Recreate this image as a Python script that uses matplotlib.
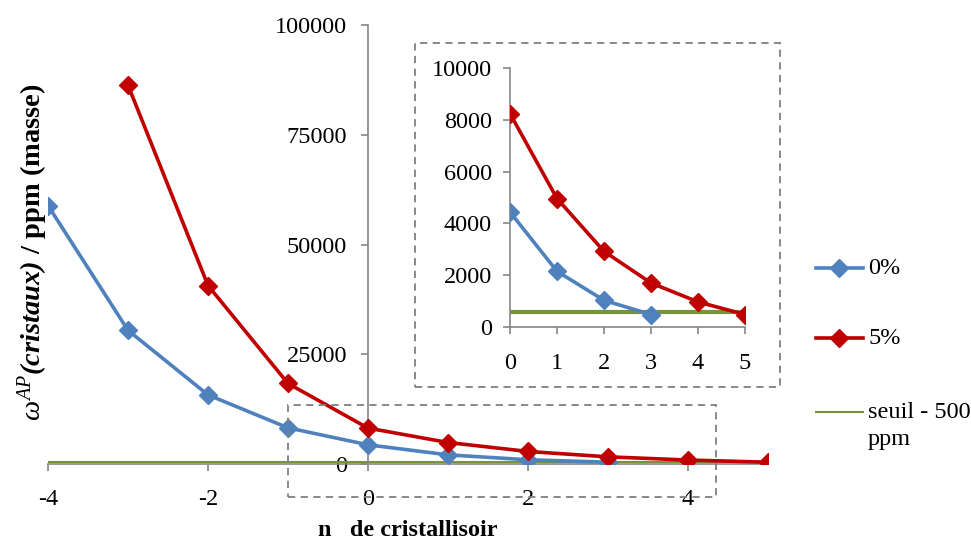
import matplotlib.pyplot as plt
from matplotlib.patches import Rectangle
from matplotlib.lines import Line2D

plt.rcParams['font.family'] = 'Liberation Serif'
plt.rcParams['axes.unicode_minus'] = False
plt.rcParams['mathtext.fontset'] = 'custom'
plt.rcParams['mathtext.rm'] = 'Liberation Serif:bold'
plt.rcParams['mathtext.it'] = 'Liberation Serif:italic'
plt.rcParams['mathtext.bf'] = 'Liberation Serif:bold'
plt.rcParams['mathtext.bfit'] = 'Liberation Serif:italic:bold'

# data
n_0 = [-4, -3, -2, -1, 0, 1, 2, 3]
w_0 = [58900, 30500, 15800, 8300, 4440, 2150, 1030, 480]
n_5 = [-3, -2, -1, 0, 1, 2, 3, 4, 5]
w_5 = [86300, 40700, 18400, 8240, 4960, 2920, 1700, 970, 480]
n_seuil = [-4, 5]
seuil = 560

main_xticks = [-4, -2, 0, 2, 4]
main_yticks = [0, 25000, 50000, 75000, 100000]
ins_xticks = [0, 1, 2, 3, 4, 5]
ins_yticks = [0, 2000, 4000, 6000, 8000, 10000]

blue = '#4F81BD'
red = '#C00000'
green = '#77933C'
grey = '#868686'
fs = 17.5

fig = plt.figure(figsize=(9.71, 5.41), dpi=100)

# main axes
ax = fig.add_axes([48/971, 1 - 464.3/541, 720/971, 439.3/541])
ax.plot(n_seuil, [seuil, seuil], color=green, lw=1.5, zorder=2)
ax.plot(n_0, w_0, color=blue, lw=2.6, marker='D', ms=9, zorder=3)
ax.plot(n_5, w_5, color=red, lw=2.6, marker='D', ms=9, zorder=3)
ax.set_xlim(-4, 5)
ax.set_ylim(0, 100000)
ax.set_xticks(main_xticks)
ax.set_yticks(main_yticks)
ax.spines['left'].set_position(('data', 0))
for s in ['top', 'right']:
    ax.spines[s].set_visible(False)
for s in ['left', 'bottom']:
    ax.spines[s].set_color(grey)
    ax.spines[s].set_linewidth(1.2)
ax.tick_params(axis='x', color=grey, length=5, width=1.2, pad=13, labelsize=fs)
ax.tick_params(axis='y', color=grey, length=5, width=1.2, pad=10, labelsize=fs)
ax.patch.set_alpha(0)

# inset axes
ins = fig.add_axes([510/971, 1 - 327/541, 235/971, 259/541])
ins.plot([0, 5], [seuil, seuil], color=green, lw=3, zorder=2)
ins.plot(n_0[4:], w_0[4:], color=blue, lw=2.6, marker='D', ms=9, zorder=3)
ins.plot(n_5[3:], w_5[3:], color=red, lw=2.6, marker='D', ms=9, zorder=3)
ins.set_xlim(0, 5)
ins.set_ylim(0, 10000)
ins.set_xticks(ins_xticks)
ins.set_yticks(ins_yticks)
for s in ['top', 'right']:
    ins.spines[s].set_visible(False)
for s in ['left', 'bottom']:
    ins.spines[s].set_color(grey)
    ins.spines[s].set_linewidth(1.2)
ins.tick_params(axis='x', color=grey, length=5, width=1.2, pad=14, labelsize=fs)
ins.tick_params(axis='y', color=grey, length=5, width=1.2, pad=8, labelsize=fs)
ins.patch.set_alpha(0)

# dashed frames
dash = dict(fill=False, ec='#7f7f7f', lw=1.3, ls=(0, (4, 3)), transform=fig.transFigure)
fig.add_artist(Rectangle((415/971, 1 - 387/541), 365/971, 344/541, **dash))
fig.add_artist(Rectangle((288/971, 1 - 497/541), 428/971, 92/541, **dash))

# labels
fig.text(33/971, 1 - 252/541, r'$\omega^{AP}\mathbfit{(cristaux)}$ / ppm (masse)', rotation=90,
         ha='center', va='center', fontsize=20.5, fontweight='bold')
fig.text(408/971, 1 - 531/541, 'n   de cristallisoir', ha='center', va='center',
         fontsize=fs, fontweight='bold')

# legend
leg_items = [(blue, 'D', 2.6, '0%', 268), (red, 'D', 2.6, '5%', 338), (green, '', 1.5, 'seuil - 500', 412)]
for c, m, lw, txt, yp in leg_items:
    y = 1 - yp/541
    fig.add_artist(Line2D([816/971, 839/971, 863/971], [y, y, y], color=c, lw=lw,
                          marker=m, ms=9, markevery=[1], transform=fig.transFigure))
    fig.text(868/971, y, txt, ha='left', va='center', fontsize=fs)
fig.text(868/971, 1 - 440/541, 'ppm', ha='left', va='center', fontsize=fs)

fig.savefig('out.png', dpi=100)
